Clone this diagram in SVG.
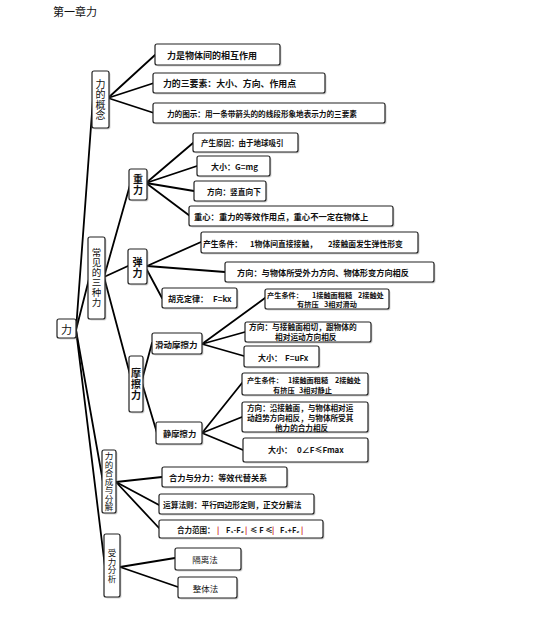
<svg xmlns="http://www.w3.org/2000/svg" width="551" height="618" viewBox="0 0 551 618">
<defs>
<style>
.bg{fill:#fff}
.b{fill:#fff;stroke:#222;stroke-width:1.2}
.s{fill:#888;opacity:.35}
.t{font-family:"Noto Sans CJK SC","Liberation Sans",sans-serif;font-weight:bold;fill:#111;dominant-baseline:central}
.v{font-family:"Noto Sans CJK SC","Liberation Serif",serif;fill:#111;text-anchor:middle;dominant-baseline:central}
.vv{font-family:"Noto Sans CJK SC","Liberation Serif",serif;fill:#111;writing-mode:vertical-rl;text-anchor:start}
.vb{font-weight:bold}
.r{fill:#c00}
#connectors path{stroke:#000;stroke-width:1.8;fill:none;stroke-linecap:round}
</style>
</defs>
<rect class="bg" x="0" y="0" width="551" height="618"/>
<text id="title" class="v" x="53" y="11" font-size="11" style="text-anchor:start">第一章力</text>

<g id="connectors">
<path d="M76,330 L93,99"/>
<path d="M76,330 L89,279"/>
<path d="M76,330 L103,482"/>
<path d="M76,330 L105,567"/>
<path d="M108,98 L155,55"/>
<path d="M108,98 L154,83"/>
<path d="M108,98 L154,113"/>
<path d="M104,277 L130,185"/>
<path d="M104,277 L128,266"/>
<path d="M104,277 L132,382"/>
<path d="M146,183 L193,143"/>
<path d="M146,183 L197,166"/>
<path d="M146,183 L194,191"/>
<path d="M146,183 L190,216"/>
<path d="M147,266 L201,242"/>
<path d="M147,266 L225,272"/>
<path d="M147,270 L162,298"/>
<path d="M142,380 L152,343"/>
<path d="M142,383 L157,433"/>
<path d="M202,344 L265,298"/>
<path d="M202,344 L245,332"/>
<path d="M202,344 L244,356"/>
<path d="M202,433 L242,383"/>
<path d="M202,433 L242,417"/>
<path d="M202,433 L243,450"/>
<path d="M116,482 L162,477"/>
<path d="M116,482 L159,505"/>
<path d="M116,482 L159,528"/>
<path d="M120,567 L175,558"/>
<path d="M120,567 L178,587"/>
</g>

<g id="n_root">
<rect class="s" x="58.5" y="320.5" width="19" height="19" rx="2"/>
<rect class="b" x="57" y="319" width="19" height="19" rx="2"/>
<text class="v" x="66.5" y="329" font-size="11">力</text>
</g>

<g id="n_gainian">
<rect class="s" x="93.5" y="72.5" width="17" height="57" rx="2"/>
<rect class="b" x="92" y="71" width="17" height="57" rx="2"/>
<text class="vv" x="100.5" y="79" font-size="10" letter-spacing="0.5">力的概念</text>
</g>

<g id="n_g1">
<rect class="s" x="156.5" y="45.5" width="125" height="21" rx="2"/>
<rect class="b" x="155" y="44" width="125" height="21" rx="2"/>
<text class="t" x="167" y="55" font-size="9">力是物体间的相互作用</text>
</g>
<g id="n_g2">
<rect class="s" x="154.5" y="74.5" width="172" height="20" rx="2"/>
<rect class="b" x="153" y="73" width="172" height="20" rx="2"/>
<text class="t" x="163" y="83" font-size="8.9">力的三要素：大小、方向、作用点</text>
</g>
<g id="n_g3">
<rect class="s" x="154.5" y="104.5" width="232" height="20" rx="2"/>
<rect class="b" x="153" y="103" width="232" height="20" rx="2"/>
<text class="t" x="167" y="113" font-size="7.6">力的图示：用一条带箭头的的线段形象地表示力的三要素</text>
</g>

<g id="n_sanzhong">
<rect class="s" x="89.5" y="238.5" width="17" height="82" rx="2"/>
<rect class="b" x="88" y="237" width="17" height="82" rx="2"/>
<text class="vv" x="96.5" y="248" font-size="9.5" letter-spacing="0.5">常见的三种力</text>
</g>

<g id="n_zhongli">
<rect class="s" x="130.5" y="170.5" width="18" height="31" rx="2"/>
<rect class="b" x="129" y="169" width="18" height="31" rx="2"/>
<text class="vv vb" x="138" y="174" font-size="10" letter-spacing="1">重力</text>
</g>
<g id="n_z1">
<rect class="s" x="194.5" y="134.5" width="105" height="19" rx="2"/>
<rect class="b" x="193" y="133" width="105" height="19" rx="2"/>
<text class="t" x="201" y="142.5" font-size="7.5">产生原因：由于地球吸引</text>
</g>
<g id="n_z2">
<rect class="s" x="198.5" y="157.5" width="73" height="20" rx="2"/>
<rect class="b" x="197" y="156" width="73" height="20" rx="2"/>
<text class="t" x="211" y="166" font-size="8">大小：G=mg</text>
</g>
<g id="n_z3">
<rect class="s" x="195.5" y="182.5" width="72" height="20" rx="2"/>
<rect class="b" x="194" y="181" width="72" height="20" rx="2"/>
<text class="t" x="207" y="191" font-size="7.7">方向：竖直向下</text>
</g>
<g id="n_z4">
<rect class="s" x="190.5" y="207.5" width="204" height="20" rx="2"/>
<rect class="b" x="189" y="206" width="204" height="20" rx="2"/>
<text class="t" x="194" y="216" font-size="8.3">重心：重力的等效作用点，重心不一定在物体上</text>
</g>

<g id="n_tanli">
<rect class="s" x="129.5" y="250.5" width="19" height="35" rx="2"/>
<rect class="b" x="128" y="249" width="19" height="35" rx="2"/>
<text class="vv vb" x="137.5" y="257" font-size="10" letter-spacing="1">弹力</text>
</g>
<g id="n_t1">
<rect class="s" x="202.5" y="233.5" width="217" height="21" rx="2"/>
<rect class="b" x="201" y="232" width="217" height="21" rx="2"/>
<text class="t" y="242.5" font-size="7.8"><tspan x="203">产生条件：</tspan><tspan x="250">1物体间直接接触，</tspan><tspan x="328">2接触面发生弹性形变</tspan></text>
</g>
<g id="n_t2">
<rect class="s" x="226.5" y="263.5" width="209" height="20" rx="2"/>
<rect class="b" x="225" y="262" width="209" height="20" rx="2"/>
<text class="t" x="237" y="272" font-size="8.2">方向：与物体所受外力方向、物体形变方向相反</text>
</g>
<g id="n_t3">
<rect class="s" x="163.5" y="289.5" width="75" height="20" rx="2"/>
<rect class="b" x="162" y="288" width="75" height="20" rx="2"/>
<text class="t" y="298" font-size="8"><tspan x="168">胡克定律：</tspan><tspan x="213">F=kx</tspan></text>
</g>

<g id="n_mocali">
<rect class="s" x="130.5" y="357.5" width="14" height="56" rx="2"/>
<rect class="b" x="129" y="356" width="14" height="56" rx="2"/>
<text class="vv vb" x="136" y="368" font-size="10" letter-spacing="1">摩擦力</text>
</g>

<g id="n_huadong">
<rect class="s" x="153.5" y="334.5" width="50" height="21" rx="2"/>
<rect class="b" x="152" y="333" width="50" height="21" rx="2"/>
<text class="t" x="155" y="343.5" font-size="8.5">滑动摩擦力</text>
</g>
<g id="n_h1">
<rect class="s" x="266.5" y="290.5" width="124" height="20" rx="2"/>
<rect class="b" x="265" y="289" width="124" height="20" rx="2"/>
<text class="t" y="294.5" font-size="7.2"><tspan x="267">产生条件：</tspan><tspan x="312">1接触面粗糙</tspan><tspan x="358">2接触处</tspan></text>
<text class="t" y="304" font-size="7.2"><tspan x="297">有挤压</tspan><tspan x="324">3相对滑动</tspan></text>
</g>
<g id="n_h2">
<rect class="s" x="246.5" y="323.5" width="126" height="20" rx="2"/>
<rect class="b" x="245" y="322" width="126" height="20" rx="2"/>
<text class="t" x="249" y="326.5" font-size="7.7">方向：与接触面相切，跟物体的</text>
<text class="t" x="275" y="336" font-size="7.7">相对运动方向相反</text>
</g>
<g id="n_h3">
<rect class="s" x="245.5" y="347.5" width="75" height="21" rx="2"/>
<rect class="b" x="244" y="346" width="75" height="21" rx="2"/>
<text class="t" y="357" font-size="8"><tspan x="258">大小：</tspan><tspan x="285">F=uFx</tspan></text>
</g>

<g id="n_jing">
<rect class="s" x="157.5" y="423.5" width="46" height="22" rx="2"/>
<rect class="b" x="156" y="422" width="46" height="22" rx="2"/>
<text class="t" x="163" y="433" font-size="8.3">静摩擦力</text>
</g>
<g id="n_j1">
<rect class="s" x="243.5" y="374.5" width="126" height="22" rx="2"/>
<rect class="b" x="242" y="373" width="126" height="22" rx="2"/>
<text class="t" y="380" font-size="7.2"><tspan x="247">产生条件：</tspan><tspan x="288">1接触面粗糙</tspan><tspan x="335">2接触处</tspan></text>
<text class="t" y="390" font-size="7.2"><tspan x="273">有挤压</tspan><tspan x="299">3相对静止</tspan></text>
</g>
<g id="n_j2">
<rect class="s" x="243.5" y="403.5" width="126" height="30" rx="2"/>
<rect class="b" x="242" y="402" width="126" height="30" rx="2"/>
<text class="t" x="247" y="407" font-size="7.6">方向：沿接触面，与物体相对运</text>
<text class="t" x="247" y="417" font-size="7.6">动趋势方向相反，与物体所受其</text>
<text class="t" x="275" y="427" font-size="7.6">他力的合力相反</text>
</g>
<g id="n_j3">
<rect class="s" x="244.5" y="439.5" width="125" height="24" rx="2"/>
<rect class="b" x="243" y="438" width="125" height="24" rx="2"/>
<text class="t" y="449" font-size="8"><tspan x="268">大小：</tspan><tspan x="297">0∠F≤Fmax</tspan></text>
</g>

<g id="n_hecheng">
<rect class="s" x="103.5" y="451.5" width="14" height="63" rx="2"/>
<rect class="b" x="102" y="450" width="14" height="63" rx="2"/>
<text class="vv" x="109" y="451.8" font-size="8.5">力的合成与分解</text>
</g>
<g id="n_c1">
<rect class="s" x="163.5" y="468.5" width="125" height="20" rx="2"/>
<rect class="b" x="162" y="467" width="125" height="20" rx="2"/>
<text class="t" x="169" y="477" font-size="8.2">合力与分力：等效代替关系</text>
</g>
<g id="n_c2">
<rect class="s" x="160.5" y="495.5" width="155" height="20" rx="2"/>
<rect class="b" x="159" y="494" width="155" height="20" rx="2"/>
<text class="t" x="163" y="504" font-size="7.7">运算法则：平行四边形定则，正交分解法</text>
</g>
<g id="n_c3">
<rect class="s" x="160.5" y="521.5" width="164" height="18" rx="2"/>
<rect class="b" x="159" y="520" width="164" height="18" rx="2"/>
<text class="t" y="529" font-size="7.5"><tspan x="177">合力范围：</tspan><tspan x="217" class="r">|</tspan><tspan x="226">F₁-F₂</tspan><tspan x="245" class="r">|</tspan><tspan x="250">≤ F ≤</tspan><tspan x="272" class="r">|</tspan><tspan x="280">F₁+F₂</tspan><tspan x="301" class="r">|</tspan></text>
</g>

<g id="n_shouli">
<rect class="s" x="105.5" y="535.5" width="16" height="63" rx="2"/>
<rect class="b" x="104" y="534" width="16" height="63" rx="2"/>
<text class="vv" x="112" y="548.8" font-size="8.5">受力分析</text>
</g>
<g id="n_s1">
<rect class="s" x="176.5" y="549.5" width="66" height="22" rx="2"/>
<rect class="b" x="175" y="548" width="66" height="22" rx="2"/>
<text class="v" x="205" y="559" font-size="8.5">隔离法</text>
</g>
<g id="n_s2">
<rect class="s" x="179.5" y="578.5" width="59" height="21" rx="2"/>
<rect class="b" x="178" y="577" width="59" height="21" rx="2"/>
<text class="v" x="205.5" y="588" font-size="8.5">整体法</text>
</g>
</svg>
